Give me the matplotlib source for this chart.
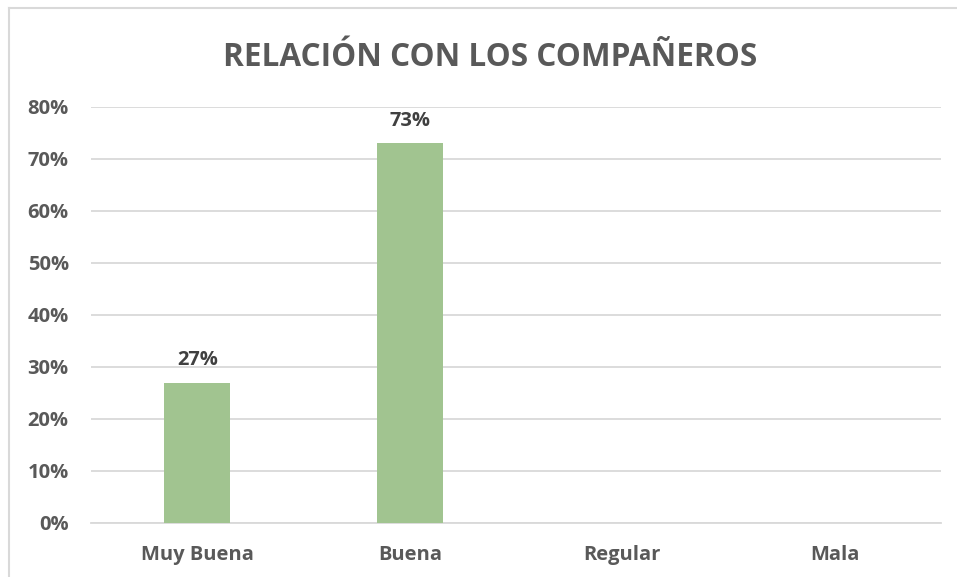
import matplotlib

matplotlib.use("Agg")
import matplotlib.pyplot as plt
from matplotlib.lines import Line2D
from matplotlib.ticker import FuncFormatter

plt.rcParams["font.family"] = ["Open Sans", "DejaVu Sans"]

categories = ["Muy Buena", "Buena", "Regular", "Mala"]
values = [0.27, 0.73, 0.0, 0.0]
labels = ["27%", "73%", "", ""]
yticks = [0, 0.1, 0.2, 0.3, 0.4, 0.5, 0.6, 0.7, 0.8]

TEXT = "#595959"
GRID = "#D9D9D9"
GREEN = "#A1C490"

W, H = 957, 577
fig = plt.figure(figsize=(W / 100, H / 100), dpi=100)
ax = fig.add_axes([91 / W, 1 - 523 / H, 850 / W, 416 / H])

x = range(len(categories))
bars = ax.bar(x, values, width=0.31, color=GREEN, zorder=3)
for b, lab in zip(bars, labels):
    if lab:
        ax.text(b.get_x() + b.get_width() / 2, b.get_height() + 0.024, lab,
                ha="center", va="bottom", fontsize=14.5, fontweight="bold",
                color="#404040")

ax.set_xlim(-0.5, 3.5)
ax.set_ylim(0, 0.8)
ax.set_yticks(yticks)
ax.yaxis.set_major_formatter(FuncFormatter(lambda v, p: f"{v:.0%}"))
ax.set_xticks(list(x))
ax.set_xticklabels(categories)
ax.grid(axis="y", color=GRID, linewidth=1.3, zorder=0)
ax.set_axisbelow(True)
for s in ["top", "right", "left"]:
    ax.spines[s].set_visible(False)
ax.spines["bottom"].set_color(GRID)
ax.spines["bottom"].set_linewidth(1.3)
ax.tick_params(axis="both", length=0, colors=TEXT, labelsize=14.5)
ax.tick_params(axis="y", pad=16)
ax.tick_params(axis="x", pad=16)
for t in ax.get_xticklabels() + ax.get_yticklabels():
    t.set_fontweight("bold")

fig.text(490 / W, 1 - 57 / H, "RELACIÓN CON LOS COMPAÑEROS", ha="center",
         va="center", fontsize=22.7, fontweight="bold", color=TEXT)

# chart frame (top and left edges visible)
fig.add_artist(Line2D([9 / W, 9 / W], [0, 1 - 8 / H], transform=fig.transFigure,
                      color=GRID, linewidth=1.5))
fig.add_artist(Line2D([9 / W, 1], [1 - 8 / H, 1 - 8 / H], transform=fig.transFigure,
                      color=GRID, linewidth=1.5))

fig.savefig("out.png", dpi=100)
